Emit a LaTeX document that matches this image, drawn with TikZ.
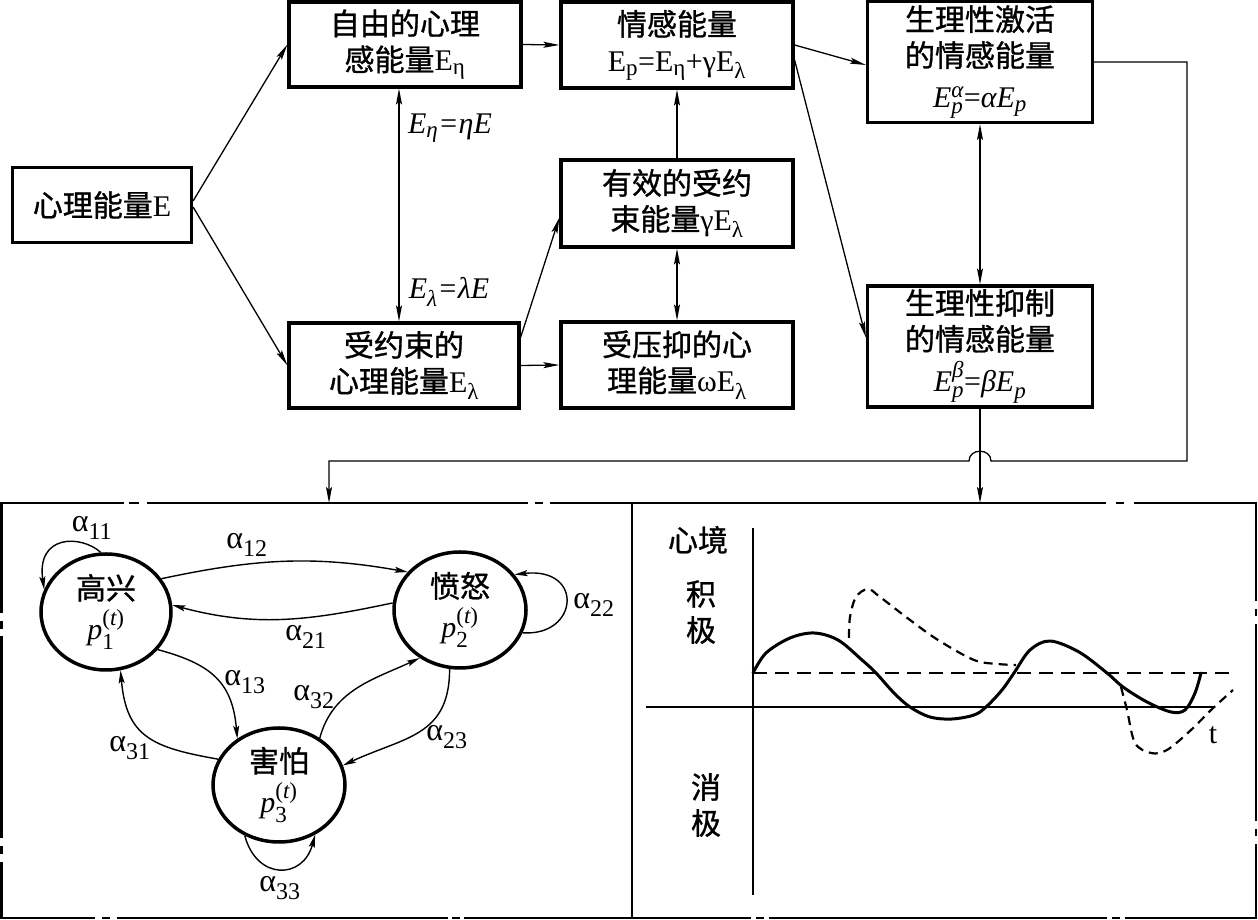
\documentclass[tikz,border=0pt]{standalone}
\usepackage{amsmath}
\usepackage{fontspec}
\setmainfont{Liberation Serif}
\newfontfamily\cjk[FakeBold=1.0]{Noto Sans CJK SC}
\DeclareMathSizes{30}{30}{23}{17}
\DeclareMathSizes{32}{32}{24}{18}
\usetikzlibrary{arrows.meta,shapes.geometric}
\begin{document}
\begin{tikzpicture}[x=1pt,y=1pt,
 box/.style={draw,line width=3.2pt,inner sep=0pt,align=center,font=\fontsize{30}{36}\selectfont},
 arr/.style={line width=1.3pt,-{Stealth[length=16pt,width=6pt,inset=3pt]}},
 darr/.style={line width=1.3pt,{Stealth[length=16pt,width=6pt,inset=3pt]}-{Stealth[length=16pt,width=6pt,inset=3pt]}},
 state/.style={ellipse,draw,line width=3.5pt,inner sep=0pt,align=center,font=\fontsize{30}{40}\selectfont},
 garr/.style={line width=1.4pt,-{Stealth[length=13pt,width=6pt,inset=2.5pt]}},
 lab/.style={font=\fontsize{32}{32}\selectfont,inner sep=0pt},
 mlab/.style={font=\fontsize{30}{30}\selectfont\itshape,inner sep=0pt},
 txt/.style={font=\fontsize{30}{30}\selectfont\cjk,inner sep=0pt},
 curve/.style={line width=3pt,line join=round,line cap=round},
 dcurve/.style={line width=2.2pt,dash pattern=on 9pt off 6pt},
 border/.style={line width=2.5pt,line cap=rect},
 axis/.style={line width=1.5pt}]
\useasboundingbox (0,0) rectangle (1258,920);

% ---- top boxes ----
\node[box,minimum width=179pt,minimum height=75pt] (b0) at (102,715) {{\cjk 心理能量}E};
\node[box,minimum width=232pt,minimum height=85pt] (b1) at (405,875.5) {{\cjk 自由的心理}\\{\cjk 感能量}E\textsubscript{η}};
\node[box,minimum width=230pt,minimum height=85pt] (b2) at (404,554.5) {{\cjk 受约束的}\\{\cjk 心理能量}E\textsubscript{λ}};
\node[box,minimum width=232pt,minimum height=86pt] (b3) at (677,875) {{\cjk 情感能量}\\E\textsubscript{p}=E\textsubscript{η}+γE\textsubscript{λ}};
\node[box,minimum width=232pt,minimum height=87pt] (b4) at (677,716.5) {{\cjk 有效的受约}\\{\cjk 束能量}γE\textsubscript{λ}};
\node[box,minimum width=232pt,minimum height=86pt] (b5) at (677,555) {{\cjk 受压抑的心}\\{\cjk 理能量}ωE\textsubscript{λ}};
\node[box,minimum width=225pt,minimum height=121pt] (b6) at (980,858) {{\cjk 生理性激活}\\{\cjk 的情感能量}\\[5pt]$\textit{E}^{\textit{α}}_{\textit{p}}\text{=}\textit{αE}_{\textit{p}}$};
\node[box,minimum width=225pt,minimum height=121pt] (b7) at (980,573.5) {{\cjk 生理性抑制}\\{\cjk 的情感能量}\\[5pt]$\textit{E}^{\textit{β}}_{\textit{p}}\text{=}\textit{βE}_{\textit{p}}$};

\node[mlab] (eeta) at (450,792) {E\textsubscript{η}=ηE};
\node[mlab] (elam) at (449,628) {E\textsubscript{λ}=λE};

% ---- top connectors ----
\draw[arr] ([yshift=4pt]b0.east) -- (b1.west);
\draw[arr] ([yshift=-2pt]b0.east) -- (b2.west);
\draw[darr] ([xshift=-6pt]b1.south) -- ([xshift=-5pt]b2.north);
\draw[arr] (b1.east) -- (b3.west);
\draw[arr] (b2.east) -- (b5.west);
\draw[arr] ([yshift=-16pt]b2.north east) -- ([yshift=-14pt]b4.west);
\draw[arr] (b4.north) -- (b3.south);
\draw[darr] (b4.south) -- (b5.north);
\draw[arr] (b3.east) -- ([yshift=-3pt]b6.west);
\draw[arr] ([yshift=-15pt]b3.east) -- ([yshift=9pt]b7.west);
\draw[darr] (b6.south) -- (b7.north);

\coordinate (inL) at (329,417);
\coordinate (inR) at (980,417);
\draw[arr] (b6.east) -| (1187,459) -- (991,459) .. controls (991,472) and (969,472) .. (969,459) -- (329,459) -- (inL);
\draw[arr] (b7.south) -- (inR);

% ---- bottom panel border ----
\draw[border] (1,417)--(123,417) (130,417)--(138,417) (148,417)--(527,417) (536,417)--(542,417) (551,417)--(1105,417) (1117,417)--(1123,417) (1135,417)--(1256,417);
\draw[border] (1,2)--(94,2) (103,2)--(109,2) (118,2)--(447,2) (453,2)--(459,2) (465,2)--(750,2) (757,2)--(763,2) (770,2)--(1106,2) (1113,2)--(1119,2) (1126,2)--(1256,2);
\draw[border] (1.5,2)--(1.5,57) (1.5,67)--(1.5,73) (1.5,83)--(1.5,283) (1.5,292)--(1.5,298) (1.5,308)--(1.5,417);
\draw[border] (1256,2)--(1256,75) (1256,85)--(1256,90) (1256,100)--(1256,295) (1256,305)--(1256,310) (1256,320)--(1256,417);
\draw[axis] (632,417) -- (632,2);

% ---- Markov graph ----
\node[state,minimum width=130pt,minimum height=116pt] (c1) at (106,308) {{\cjk 高兴}\\$\textit{p}^{\text{(}\textit{t}\text{)}}_{\text{1}}$};
\node[state,minimum width=132pt,minimum height=116pt] (c2) at (460,310) {{\cjk 愤怒}\\$\textit{p}^{\text{(}\textit{t}\text{)}}_{\text{2}}$};
\node[state,minimum width=132pt,minimum height=114pt] (c3) at (279,135) {{\cjk 害怕}\\$\textit{p}^{\text{(}\textit{t}\text{)}}_{\text{3}}$};

\draw[garr] (c1.95) .. controls +(-20,18) and +(-8,55) .. (c1.160);
\draw[garr] (c1.31) to[out=12,in=170] (c2.144);
\draw[garr] (c2.174) to[out=192,in=-15] (c1.6);
\draw[garr] (c2.-20) .. controls +(56,-4) and +(70,8) .. (c2.33);
\draw[garr] (c1.-36) to[out=-15,in=95,looseness=1.2] (c3.132);
\draw[garr] (c3.157) to[out=170,in=-85,looseness=1.3] (c1.-76);
\draw[garr] (c3.49) to[out=75,in=205] (c2.230);
\draw[garr] (c2.-100) to[out=-90,in=25,looseness=1.2] (c3.17);
\draw[garr] (c3.-124) .. controls +(12,-45) and +(-12,-45) .. (c3.-54);

\node[lab] (a11) at (92,392) {α\textsubscript{11}};
\node[lab] (a12) at (247,375) {α\textsubscript{12}};
\node[lab] (a21) at (306,283) {α\textsubscript{21}};
\node[lab] (a22) at (594,315) {α\textsubscript{22}};
\node[lab] (a13) at (245,238) {α\textsubscript{13}};
\node[lab] (a31) at (130,172) {α\textsubscript{31}};
\node[lab] (a32) at (314,223) {α\textsubscript{32}};
\node[lab] (a23) at (447,183) {α\textsubscript{23}};
\node[lab] (a33) at (280,32) {α\textsubscript{33}};

% ---- mood chart ----
\draw[axis] (753,392) -- (753,25);
\draw[axis] (646,213) -- (1215,213);
\draw[axis,dash pattern=on 14pt off 8pt] (753,247) -- (1229,247);
\draw[curve] plot[smooth,tension=0.55] coordinates {(753,247) (766,267) (790,282) (814,287) (838,280) (862,260) (876,247) (894,227) (910,213) (930,203) (952,201) (974,205) (986,213) (1002,230) (1014,247) (1030,270) (1050,279) (1079,268) (1107,247) (1123,233) (1147,218) (1171,208) (1185,210) (1195,227) (1201,247)};
\draw[dcurve] plot[smooth,tension=0.55] coordinates {(849,282) (850,303) (856,323) (868,331) (880,323) (910,300) (938,280) (974,260) (998,256) (1016,255)};
\draw[dcurve] plot[smooth,tension=0.55] coordinates {(1121,233) (1127,210) (1135,177) (1151,167) (1167,170) (1191,190) (1211,210) (1233,230)};

\node[txt] (mj) at (698,380) {心境};
\node[txt] (jj) at (701,326) {积};
\node[txt] (jj2) at (701,290) {极};
\node[txt] (xj) at (706,133) {消};
\node[txt] (xj2) at (706,97) {极};
\node[font=\fontsize{30}{30}\selectfont,inner sep=0pt] (tl) at (1213,185) {t};
\end{tikzpicture}
\end{document}
